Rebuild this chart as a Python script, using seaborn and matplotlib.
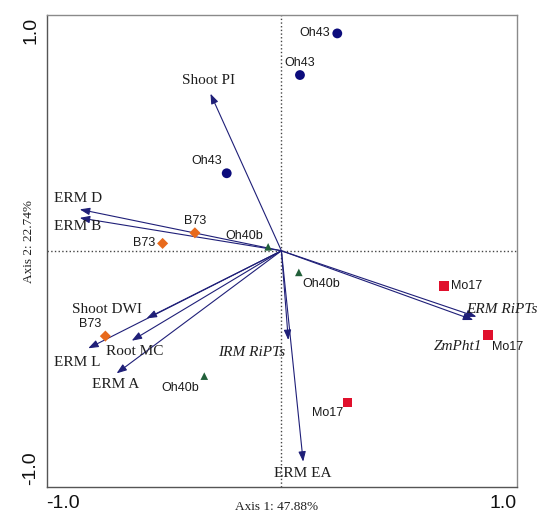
import matplotlib
matplotlib.use("Agg")
import matplotlib.pyplot as plt
import seaborn as sns
import pandas as pd
from matplotlib.transforms import ScaledTranslation, blended_transform_factory

# ---------------- data ----------------
site_line = ["Oh43", "Oh43", "Oh43", "B73", "B73", "B73",
             "Oh40b", "Oh40b", "Oh40b", "Mo17", "Mo17", "Mo17"]
site_x = [0.244, 0.081, -0.239, -0.378, -0.519, -0.769,
          -0.058, 0.076, -0.337, 0.711, 0.903, 0.289]
site_y = [0.945, 0.764, 0.337, 0.078, 0.032, -0.371,
          0.017, -0.094, -0.545, -0.153, -0.367, -0.659]

var_names = ["Shoot PI", "ERM D", "ERM B", "Shoot DWI", "ERM L", "Root MC",
             "ERM A", "IRM RiPTs", "ERM EA", "ERM RiPTs", "ZmPht1"]
var_x = [-0.310, -0.881, -0.881, -0.589, -0.844, -0.654, -0.720, 0.030, 0.095, 0.852, 0.838]
var_y = [0.683, 0.180, 0.143, -0.294, -0.424, -0.391, -0.533, -0.388, -0.917, -0.287, -0.301]
var_italic = ["IRM RiPTs", "ERM RiPTs", "ZmPht1"]

tick_values = [-1.0, -0.5, 0.0, 0.5, 1.0]
tick_text = {-1.0: "-1.0", 1.0: "1.0"}
x_title = "Axis 1: 47.88%"
y_title = "Axis 2: 22.74%"

# ---------------- styles / layout ----------------
palette = {"Oh43": "#0c0c7c", "B73": "#e86a1c", "Oh40b": "#22603a", "Mo17": "#e0102c"}
markers = {"Oh43": "o", "B73": "D", "Oh40b": "^", "Mo17": "s"}
sizes = {"Oh43": 50, "B73": 32, "Oh40b": 30, "Mo17": 46}

# label offsets in pixels (dx, dy) from each point
site_off = [(-7, 0, "right"), (0, 12, "center"), (-20, 12, "center"),
            (0, 12, "center"), (-7, 0, "right"), (-15, 12, "center"),
            (-24, 11, "center"), (22, -12, "center"), (-24, -12, "center"),
            (7, 0, "left"), (19, -12, "center"), (-20, -11, "center")]
var_off = [(-2, 13), (-2, 11), (-2, -9), (-40, 9), (-11, -14), (3, -11),
           (-1, -11), (-37, -12), (0, -12), (25, 7), (-15, -26)]

sns.set_style("white")
plt.rcParams["font.family"] = ["Liberation Sans", "DejaVu Sans"]

fig = plt.figure(figsize=(5.39, 5.13), dpi=100)
ax = fig.add_axes([47 / 539, 1 - 487 / 513, 470 / 539, 472 / 513])
ax.set_xlim(-1.024, 1.029)
ax.set_ylim(-1.027, 1.025)

ax.axhline(0, color="#444444", lw=1.0, ls=":", zorder=1)
ax.axvline(0, color="#444444", lw=1.0, ls=":", zorder=1)

arrow_color = "#1f1f78"
for name, x, y, (dx, dy) in zip(var_names, var_x, var_y, var_off):
    ax.annotate("", xy=(x, y), xytext=(0, 0),
                arrowprops=dict(arrowstyle="-|>,head_length=0.6,head_width=0.22",
                                color=arrow_color, lw=0.8, shrinkA=0, shrinkB=0,
                                mutation_scale=10), zorder=3)
    ax.annotate(name, xy=(x, y), xytext=(dx, dy), textcoords="offset pixels",
                ha="center", va="center", fontsize=11, family="Liberation Serif",
                style="italic" if name in var_italic else "normal",
                color="#1e1e1e", annotation_clip=False, zorder=4)

df = pd.DataFrame({"x": site_x, "y": site_y, "line": site_line})
sns.scatterplot(data=df, x="x", y="y", hue="line", style="line", size="line",
                palette=palette, markers=markers, sizes=sizes, linewidth=0,
                legend=False, ax=ax, zorder=5)
for x, y, name, (dx, dy, ha) in zip(site_x, site_y, site_line, site_off):
    ax.annotate(name, xy=(x, y), xytext=(dx, dy), textcoords="offset pixels",
                ha=ha, va="center", fontsize=9, family="Liberation Sans",
                color="#1a1a1a", annotation_clip=False, zorder=6)

# spines
for side in ["left", "bottom"]:
    ax.spines[side].set_color("#555555")
    ax.spines[side].set_linewidth(1.0)
for side in ["top", "right"]:
    ax.spines[side].set_color("#8a8a8a")
    ax.spines[side].set_linewidth(1.0)
    ax.spines[side].set_visible(True)

ax.set_xticks(tick_values)
ax.set_yticks(tick_values)
ax.set_xticklabels([])
ax.set_yticklabels([])
ax.tick_params(axis="x", direction="inout", length=5, width=0.8, color="#555555")
ax.tick_params(axis="y", direction="out", length=3, width=0.8, color="#555555")

# tick labels (aligned inside the frame ends, as in the original)
dpi_t = fig.dpi_scale_trans
xt = blended_transform_factory(ax.transData, ax.transAxes)
yt = blended_transform_factory(ax.transAxes, ax.transData)
x_shift = {-1.0: 10.5, 1.0: -7}
y_shift = {-1.0: 13, 1.0: -10}
for v, lab in tick_text.items():
    ax.text(v, 0, lab, transform=xt + ScaledTranslation(x_shift[v] / 100, -7.5 / 100, dpi_t),
            ha="center", va="top", fontsize=14, color="#111111")
    ax.text(0, v, lab, transform=yt + ScaledTranslation(-7.5 / 100, y_shift[v] / 100, dpi_t),
            ha="right", va="center", rotation=90, fontsize=14, color="#111111")

ax.set_xlabel(x_title, fontsize=9.5, family="Liberation Serif", color="#1e1e1e")
ax.set_ylabel(y_title, fontsize=9.5, family="Liberation Serif", color="#1e1e1e")
ax.xaxis.set_label_coords(0.488, -0.0297)
ax.yaxis.set_label_coords(-0.0264, 0.52)

fig.savefig("out.png", dpi=100)
